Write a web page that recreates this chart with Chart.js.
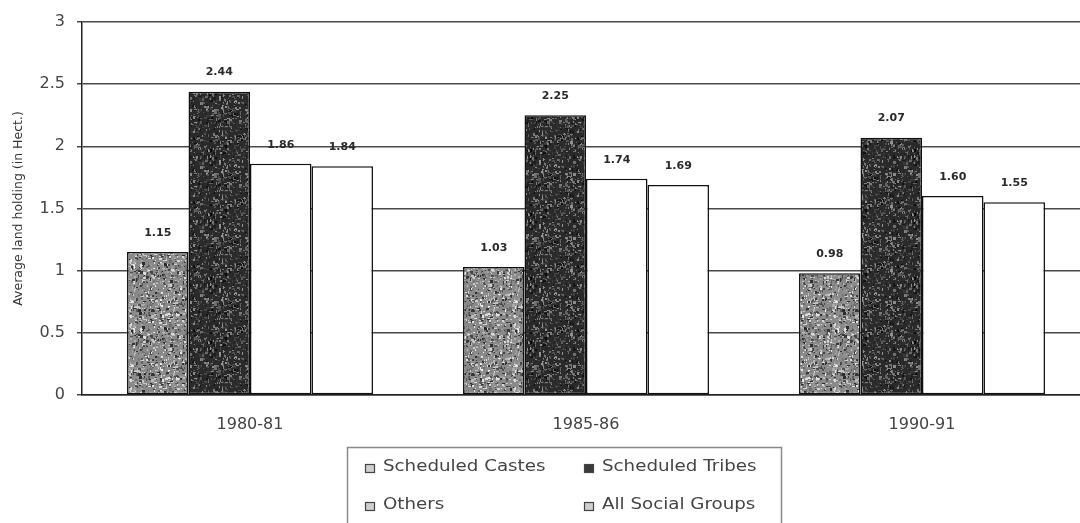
<!DOCTYPE html>
<html>
<head>
<meta charset="utf-8">
<script src="https://cdn.jsdelivr.net/npm/chart.js@4/dist/chart.umd.min.js"></script>
<style>
  html, body { margin: 0; padding: 0; background: #fff; overflow: hidden; }
  #wrap { width: 1095px; height: 523px; }
</style>
</head>
<body>
<div id="wrap"><canvas id="c" width="1095" height="523"></canvas></div>
<script>
// Average land holding by social group
const categories = ['1980-81', '1985-86', '1990-91'];
const scheduledCastes = [1.15, 1.03, 0.98];
const scheduledTribes = [2.44, 2.25, 2.07];
const others = [1.86, 1.74, 1.60];
const allSocialGroups = [1.84, 1.69, 1.55];
const seriesNames = ['Scheduled Castes', 'Scheduled Tribes', 'Others', 'All Social Groups'];
const yTicks = [0, 0.5, 1, 1.5, 2, 2.5, 3];

// Coarse speckled fill, like a photocopied print
function speckle(base, range, density, seed) {
  const size = 64;
  const c = document.createElement('canvas');
  c.width = size; c.height = size;
  const g = c.getContext('2d');
  g.fillStyle = base;
  g.fillRect(0, 0, size, size);
  let s = seed;
  const next = () => { s = (s * 1103515245 + 12345) & 0x7fffffff; return s / 0x7fffffff; };
  for (let i = 0; i < size * size * density; i++) {
    const x = Math.floor(next() * size), y = Math.floor(next() * size);
    const v = Math.floor(range[0] + next() * (range[1] - range[0]));
    g.fillStyle = `rgb(${v},${v},${v})`;
    g.fillRect(x, y, 1 + Math.floor(next() * 2.5), 1 + Math.floor(next() * 2.5));
  }
  return g.createPattern(c, 'repeat');
}
const ctx0 = document.getElementById('c').getContext('2d');
const scFill = speckle('#8a8a8a', [40, 235], 0.22, 7);
const stFill = speckle('#2a2a2a', [10, 150], 0.18, 13);

const FONT = '"DejaVu Sans", "Liberation Sans", Arial, sans-serif';

const valueLabels = {
  id: 'valueLabels',
  afterDatasetsDraw(chart) {
    const ctx = chart.ctx;
    ctx.save();
    ctx.font = 'bold 11px ' + FONT;
    ctx.fillStyle = '#2a2a2a';
    ctx.textAlign = 'center';
    ctx.textBaseline = 'middle';
    chart.data.datasets.forEach((ds, i) => {
      chart.getDatasetMeta(i).data.forEach((bar, j) => {
        ctx.fillText(ds.data[j].toFixed(2), bar.x, bar.y - 19);
      });
    });
    ctx.restore();
  }
};

// Boxed two-column legend under the axis
const boxLegend = {
  id: 'boxLegend',
  afterDraw(chart) {
    const ctx = chart.ctx;
    ctx.save();
    ctx.strokeStyle = '#8a8a8a';
    ctx.lineWidth = 1.5;
    ctx.strokeRect(347.5, 447.5, 434, 100);
    ctx.font = '16px ' + FONT;
    ctx.textBaseline = 'middle';
    ctx.textAlign = 'left';
    const cols = [365, 584];
    const rows = [467, 505];
    chart.data.datasets.forEach((ds, i) => {
      const x = cols[i % 2], y = rows[Math.floor(i / 2)];
      ctx.fillStyle = i === 1 ? '#3a3a3a' : '#cfcfcf';
      ctx.fillRect(x, y - 3, 10, 9);
      ctx.strokeStyle = '#444';
      ctx.lineWidth = 1.2;
      ctx.strokeRect(x + 0.5, y - 2.5, 9, 8);
      ctx.fillStyle = '#444';
      ctx.save();
      ctx.translate(x + 18, y);
      ctx.scale(1.14, 1);
      ctx.fillText(ds.label, 0, 0);
      ctx.restore();
    });
    ctx.restore();
  }
};

const barStyle = { borderColor: '#111', borderWidth: 1.5, borderSkipped: false };

new Chart(ctx0, {
  type: 'bar',
  data: {
    labels: categories,
    datasets: [
      { label: seriesNames[0], data: scheduledCastes, backgroundColor: scFill, ...barStyle },
      { label: seriesNames[1], data: scheduledTribes, backgroundColor: stFill, ...barStyle },
      { label: seriesNames[2], data: others, backgroundColor: '#ffffff', ...barStyle },
      { label: seriesNames[3], data: allSocialGroups, backgroundColor: '#ffffff', ...barStyle }
    ]
  },
  options: {
    responsive: false,
    animation: false,
    devicePixelRatio: 1,
    layout: { padding: { top: 22, right: 5, bottom: 80, left: 0 } },
    plugins: { legend: { display: false }, tooltip: { enabled: false } },
    datasets: { bar: { categoryPercentage: 0.732, barPercentage: 1.0 } },
    scales: {
      x: {
        grid: { display: false, drawTicks: false },
        border: { display: true, color: '#222', width: 1.5 },
        ticks: {
          padding: 20,
          color: '#444',
          font: { family: FONT, size: 16 }
        },
        afterFit(scale) { scale.height = 48; }
      },
      y: {
        min: 0,
        max: 3,
        afterBuildTicks(scale) { scale.ticks = yTicks.map(v => ({ value: v })); },
        grid: { color: '#4a4a4a', lineWidth: 1.5, drawTicks: true, tickLength: 5 },
        border: { display: true, color: '#222', width: 1.5 },
        ticks: {
          padding: 12,
          color: '#444',
          font: { family: FONT, size: 16 },
          callback: v => String(v)
        },
        title: {
          display: true,
          text: 'Average land holding (in Hect.)',
          color: '#333',
          font: { family: FONT, size: 12.5 },
          padding: { top: 11, bottom: 0 }
        },
        afterFit(scale) { scale.width = 82; }
      }
    }
  },
  plugins: [valueLabels, boxLegend]
});
</script>
</body>
</html>
